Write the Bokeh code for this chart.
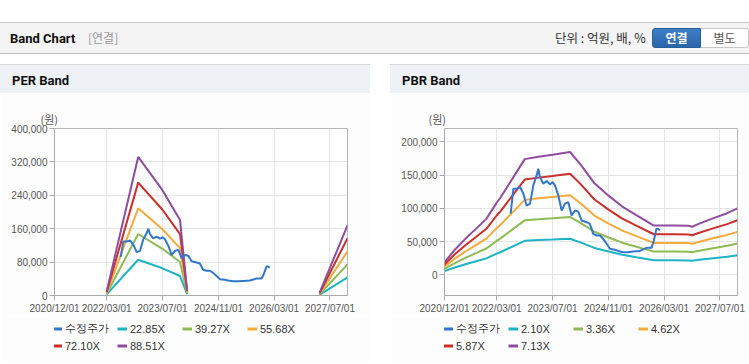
import numpy as np
import pandas as pd
from datetime import datetime
from bokeh.plotting import figure
from bokeh.models import (ColumnDataSource, FixedTicker, DatetimeTickFormatter,
                          NumeralTickFormatter, Legend, LegendItem, Title, Div,
                          Range1d, Spacer)
from bokeh.layouts import column, row
from bokeh.embed import file_html
from bokeh.resources import INLINE

# ---------------- data ----------------
x_tick_labels = ["2020/12/01", "2022/03/01", "2023/07/01", "2024/11/01", "2026/03/01", "2027/07/01"]

price_dates = ["2022-07-01", "2022-07-25", "2022-08-23", "2022-09-21", "2022-10-20", "2022-11-18",
               "2022-12-17", "2023-01-15", "2023-02-13", "2023-02-27", "2023-03-14", "2023-04-12",
               "2023-05-11", "2023-06-09", "2023-07-03", "2023-07-23", "2023-08-21", "2023-09-19",
               "2023-10-18", "2023-11-16", "2023-12-15", "2024-01-13", "2024-02-11", "2024-03-11",
               "2024-04-24", "2024-05-22", "2024-06-20", "2024-07-20", "2024-08-18", "2024-09-15",
               "2024-10-15", "2024-11-13", "2024-12-26", "2025-01-24", "2025-03-08", "2025-04-21",
               "2025-06-03", "2025-08-01", "2025-09-28", "2025-11-11", "2025-12-01", "2025-12-24",
               "2026-01-07", "2026-01-22"]
price = [92000, 129500, 129500, 132000, 122000, 104000,
         107000, 134500, 149500, 159600, 147000, 137000,
         141000, 136000, 139500, 134500, 119400, 96800,
         107000, 109300, 89300, 96800, 95000, 81800,
         79200, 76800, 61700, 59200, 59200, 54200,
         46700, 39200, 37700, 36000, 34000, 34000,
         35000, 36000, 40600, 40600, 51600, 69300,
         69300, 67000]

nan = float("nan")
per_dates = ["2022-03-01", "2022-12-01", "2023-07-01", "2023-12-01", "2024-02-01",
             "2025-10-01", "2027-04-01", "2027-12-01"]
per_2285 = [2514, 85688, 65123, 46614, 3199, nan, 1600, 43415]
per_3927 = [4320, 147263, 111920, 80111, 5498, nan, 2749, 74613]
per_5568 = [6125, 208800, 158688, 113587, 7795, nan, 3898, 105792]
per_7210 = [7931, 270375, 205485, 147084, 10094, nan, 5047, 136990]
per_8851 = [9736, 331913, 252254, 180560, 12391, nan, 6196, 168169]
per_labels = ["수정주가", "22.85X", "39.27X", "55.68X", "72.10X", "88.51X"]
per_y_ticks = [0, 80000, 160000, 240000, 320000, 400000]

pbr_dates = ["2020-12-01", "2021-03-01", "2021-06-01", "2021-09-01", "2021-12-01", "2022-03-01",
             "2022-04-01", "2022-11-01", "2023-03-01", "2023-07-01", "2023-12-01", "2024-03-01",
             "2024-07-01", "2024-11-01", "2025-03-01", "2025-07-01", "2025-12-01", "2026-06-01",
             "2026-10-01", "2026-11-01", "2027-01-01", "2027-05-01", "2027-09-01", "2027-12-01"]
pbr_210 = [5565, 11130, 15960, 20370, 24780, 31920, 34020, 51240, 52290, 53130, 54390, 48930,
           40530, 35070, 30240, 26460, 21840, 21840, 21735, 21315, 22680, 24990, 27300, 29400]
pbr_336 = [8904, 17808, 25536, 32592, 39648, 51072, 54432, 81984, 83664, 85008, 87024, 78288,
           64848, 56112, 48384, 42336, 34944, 34944, 34776, 34104, 36288, 39984, 43680, 47040]
pbr_462 = [12243, 24486, 35112, 44814, 54516, 70224, 74844, 112728, 115038, 116886, 119658, 107646,
           89166, 77154, 66528, 58212, 48048, 48048, 47817, 46893, 49896, 54978, 60060, 64680]
pbr_587 = [15556, 31111, 44612, 56939, 69266, 89224, 95094, 143228, 146163, 148511, 152033, 136771,
           113291, 98029, 84528, 73962, 61048, 61048, 60755, 59581, 63396, 69853, 76310, 82180]
pbr_713 = [18895, 37789, 54188, 69161, 84134, 108376, 115506, 173972, 177537, 180389, 184667, 166129,
           137609, 119071, 102672, 89838, 74152, 74152, 73796, 72370, 77004, 84847, 92690, 99820]
pbr_labels = ["수정주가", "2.10X", "3.36X", "4.62X", "5.87X", "7.13X"]
pbr_y_ticks = [0, 50000, 100000, 150000, 200000]

# ---------------- style ----------------
COLORS = ["#3377cc", "#1db4c6", "#8dbb55", "#f5aa3c", "#cc2e2a", "#8f4d9f"]
SANS = "Liberation Sans"
KR = "Noto Sans CJK KR"
PANEL_BG = "#fdfdfd"

X_START = datetime(2020, 12, 1)
X_END = datetime(2027, 12, 1)
tick_ms = list((pd.to_datetime(x_tick_labels, format="%Y/%m/%d").astype("int64") // 10**6).astype(float))

fmt = "%Y/%m/%d"
dt_formatter = DatetimeTickFormatter(milliseconds=fmt, seconds=fmt, minsec=fmt, minutes=fmt,
                                     hourmin=fmt, hours=fmt, days=fmt, months=fmt, years=fmt)


def build_panel(title, width, pad, min_left, min_right, y_start, y_end, y_ticks,
                band_dates, bands, labels, unit_dx, leg_dx):
    p = figure(width=width, height=223, x_axis_type="datetime",
               x_range=Range1d(X_START, X_END), y_range=Range1d(y_start, y_end),
               output_backend="svg", toolbar_location=None,
               min_border_left=min_left, min_border_right=min_right,
               min_border_top=35, min_border_bottom=21,
               background_fill_color="#ffffff", border_fill_color=PANEL_BG,
               outline_line_color="#b5b5b5", margin=0)
    p.xaxis.ticker = FixedTicker(ticks=tick_ms)
    p.xaxis.formatter = dt_formatter
    p.yaxis.ticker = FixedTicker(ticks=y_ticks)
    p.yaxis.formatter = NumeralTickFormatter(format="0,0")
    for ax in (p.xaxis[0], p.yaxis[0]):
        ax.axis_line_color = "#aaaaaa"
        ax.major_tick_line_color = "#aaaaaa"
        ax.minor_tick_line_color = None
        ax.major_tick_in = 0
        ax.major_tick_out = 5
        ax.major_label_standoff = 2
        ax.major_label_text_font = SANS
        ax.major_label_text_font_size = "10px"
        ax.major_label_text_color = "#555555"
    p.grid.grid_line_color = "#e6e6e6"

    bsrc = ColumnDataSource(dict(d=pd.to_datetime(band_dates),
                                 **{f"b{i}": np.array(b, dtype=float) for i, b in enumerate(bands)}))
    psrc = ColumnDataSource(dict(d=pd.to_datetime(price_dates), v=np.array(price, dtype=float)))
    for i in range(len(bands)):
        p.line("d", f"b{i}", source=bsrc, line_color=COLORS[i + 1], line_width=2)
    p.line("d", "v", source=psrc, line_color=COLORS[0], line_width=2)

    p.add_layout(Title(text="(원)", align="left", offset=unit_dx, standoff=4,
                       text_font=KR, text_font_size="11px", text_font_style="normal",
                       text_color="#555555"), "above")

    # legend strip below the chart: same series as keys, outside the strip's visible range
    lg = figure(width=width, height=47, x_range=Range1d(0, 1), y_range=Range1d(0, 1),
                output_backend="svg", toolbar_location=None,
                x_axis_location=None, y_axis_location=None,
                min_border_left=0, min_border_right=0, min_border_top=0, min_border_bottom=0,
                background_fill_color=PANEL_BG, border_fill_color=PANEL_BG,
                outline_line_color=None, margin=0)
    lg.grid.visible = False
    keys = [lg.line("d", "v", source=psrc, line_color=COLORS[0], line_width=3)]
    for i in range(len(bands)):
        keys.append(lg.line("d", f"b{i}", source=bsrc, line_color=COLORS[i + 1], line_width=3))
    items = [LegendItem(label=labels[i], renderers=[keys[i]]) for i in range(len(labels))]
    leg = Legend(items=items, location=(leg_dx, 11), orientation="horizontal", ncols=4,
                 glyph_width=10, glyph_height=13, label_standoff=3, label_width=49,
                 label_height=13, spacing=3, padding=0, margin=0,
                 border_line_alpha=0, background_fill_alpha=0,
                 label_text_font=SANS, label_text_font_size="11px",
                 label_text_color="#333333")
    lg.add_layout(leg, "center")

    tdiv = Div(text=(f'<div style="width:{width}px;height:29px;box-sizing:border-box;'
                     f'border-top:1px solid #d9d9d9;background:#eef2f7;'
                     f'font-family:Roboto,sans-serif;font-weight:bold;'
                     f'font-size:13px;color:#111;line-height:27px;padding-top:2px;'
                     f'padding-left:{pad}px;">{title}</div>'),
               width=width, height=29, margin=0)
    bdiv = Div(text=f'<div style="width:{width}px;height:1px;background:#d2d2d2;"></div>',
               width=width, height=1, margin=0)
    return column(tdiv, p, lg, bdiv, spacing=0, margin=0)


per_panel = build_panel("PER Band", 370, 12, 54, 23, 0, 400000, per_y_ticks, per_dates,
                        [per_2285, per_3927, per_5568, per_7210, per_8851], per_labels, -14, -2)
pbr_panel = build_panel("PBR Band", 359, 12, 54, 12, -31000, 220000, pbr_y_ticks, pbr_dates,
                        [pbr_210, pbr_336, pbr_462, pbr_587, pbr_713], pbr_labels, -16, -1)

header_html = f'''
<div style="position:relative;width:749px;height:64px;background:#fff;font-family:'{KR}',sans-serif;">
  <div style="position:absolute;left:0;top:22px;width:749px;height:32px;box-sizing:border-box;
       background:#f4f4f4;border-top:1px solid #c8c8c8;border-bottom:1px solid #bdbdbd;"></div>
  <div style="position:absolute;left:10px;top:23px;height:32px;line-height:32px;
       font-family:Roboto,sans-serif;font-weight:bold;font-size:13px;color:#111;">Band Chart</div>
  <div style="position:absolute;left:88px;top:22px;height:32px;line-height:32px;
       font-size:12px;color:#999;">[연결]</div>
  <div style="position:absolute;left:555px;top:22px;height:32px;line-height:32px;
       font-size:12.5px;color:#333;">단위 : 억원, 배, %</div>
  <div style="position:absolute;left:652px;top:28px;width:49px;height:20px;box-sizing:border-box;
       background:linear-gradient(#3f80c6,#2a65a9);border:1px solid #2a5f9e;border-radius:3px 0 0 3px;
       color:#fff;font-weight:bold;font-size:12px;line-height:18px;text-align:center;">연결</div>
  <div style="position:absolute;left:701px;top:28px;width:48px;height:20px;box-sizing:border-box;
       background:#fff;border:1px solid #c8c8c8;border-left:none;border-radius:0 3px 3px 0;
       color:#555;font-size:12px;line-height:18px;text-align:center;">별도</div>
</div>'''
header = Div(text=header_html, width=749, height=64, margin=0)

layout = column(header,
                row(per_panel, Spacer(width=20, height=300, margin=0), pbr_panel, spacing=0, margin=0),
                spacing=0, margin=0)

open("out.html", "w").write(file_html(layout, INLINE))
